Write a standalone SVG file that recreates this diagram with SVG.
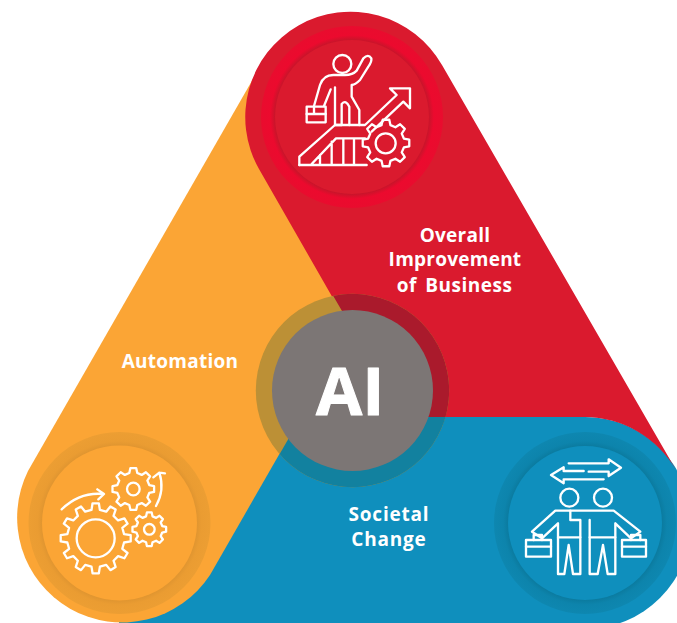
<svg xmlns="http://www.w3.org/2000/svg" xmlns:xlink="http://www.w3.org/1999/xlink" width="677" height="623" viewBox="0 0 677 623">
<style>
.ic{fill:none;stroke:#fff;stroke-width:7;stroke-linejoin:round;stroke-linecap:round}
.g{fill:none;stroke:#fff;stroke-width:2.3;stroke-linejoin:round;vector-effect:non-scaling-stroke}
.l{font-family:"Open Sans","Liberation Sans",sans-serif;font-weight:700;font-size:19px;letter-spacing:.25px;fill:#fff;text-anchor:middle}
</style>
<defs>
<path id="g8" class="g" d="M76,-19L99,-14L99,14L76,19L67,40L80,60L60,80L40,67L19,76L14,99L-14,99L-19,76L-40,67L-60,80L-80,60L-67,40L-76,19L-99,14L-99,-14L-76,-19L-67,-40L-80,-60L-60,-80L-40,-67L-19,-76L-14,-99L14,-99L19,-76L40,-67L60,-80L80,-60L67,-40Z"/>
<path id="g12" class="g" d="M81,-12L100,-9L100,9L81,12L76,30L91,42L82,57L64,51L51,64L57,82L42,91L30,76L12,81L9,100L-9,100L-12,81L-30,76L-42,91L-57,82L-51,64L-64,51L-82,57L-91,42L-76,30L-81,12L-100,9L-100,-9L-81,-12L-76,-30L-91,-42L-82,-57L-64,-51L-51,-64L-57,-82L-42,-91L-30,-76L-12,-81L-9,-100L9,-100L12,-81L30,-76L42,-91L57,-82L51,-64L64,-51L82,-57L91,-42L76,-30L81,-12Z"/>
<radialGradient id="rr"><stop offset="0.84" stop-color="#C4162A"/><stop offset="0.9" stop-color="#EC0A2E"/><stop offset="1" stop-color="#E90C2E"/></radialGradient>
<radialGradient id="ro"><stop offset="0.84" stop-color="#DE9430"/><stop offset="0.9" stop-color="#EA9C32"/><stop offset="1" stop-color="#EC9E33"/></radialGradient>
<radialGradient id="rb"><stop offset="0.84" stop-color="#0B7A9E"/><stop offset="0.9" stop-color="#0D84AC"/><stop offset="1" stop-color="#0E87B0"/></radialGradient>
<clipPath id="cr"><path d="M442,65L676,470A106,106 0 0 0 585,417L404,417L259,169A105,105 0 0 1 442,65Z"/></clipPath>
<clipPath id="cb"><path d="M301,417L585,417V629H210V575Z"/></clipPath>
</defs>
<rect width="677" height="623" fill="#fff"/>
<g id="node-societal">
<path fill="#0F8FBD" d="M119,417L585,417A106,106 0 0 1 585,629L119,629Z"/>
</g>
<g id="node-automation">
<path fill="#FBA535" d="M261,65L28,471A105,105 0 0 0 210,575L443,169Z"/>
</g>
<g id="node-business">
<path fill="#DA1A2E" d="M442,65L676,470A106,106 0 0 0 585,417L401,417L259,169A105,105 0 0 1 442,65Z"/>
<circle cx="352" cy="117" r="91" fill="url(#rr)"/>
<circle cx="352" cy="117" r="77" fill="#DA1A2E"/>
<g transform="translate(240,0) scale(.33333)">
<circle class="ic" cx="307" cy="192" r="27"/>
<path class="ic" d="M222,318L240,255Q250,225 280,225L315,225Q338,225 350,212L370,175Q385,160 394,175Q396,185 385,200L360,240Q345,255 335,255L335,290L358,330L358,375"/>
<path class="ic" d="M272,268L252,318M285,262L285,375L305,375L305,312Q318,298 328,320L328,375"/>
<rect class="ic" x="200" y="320" width="57" height="47"/>
<path class="ic" d="M200,342H257M222,320V342"/>
<path class="ic" d="M178,495L178,470L285,375L375,375L470,285L450,265L510,265L510,325L490,305L395,395"/>
<path class="ic" d="M178,495H380M215,492L288,415L375,415M240,465V495M275,425V495M310,415V495M342,415V495"/>
<circle class="ic" cx="437" cy="430" r="30"/>
</g>
<use xlink:href="#g8" href="#g8" transform="translate(386,143) scale(.235)"/>
</g>
<g id="node-automation-icon">
<circle cx="119.500" cy="523" r="91" fill="url(#ro)"/>
<circle cx="119.500" cy="523" r="77.500" fill="#FBA535"/>
<use xlink:href="#g12" href="#g12" transform="translate(95.700,538.300) scale(.35)"/>
<use xlink:href="#g8" href="#g8" transform="translate(133.300,489) scale(.21)"/>
<use xlink:href="#g8" href="#g8" transform="translate(149.300,529.300) scale(.17)"/>
<g transform="translate(0,420) scale(.33333)">
<circle class="ic" cx="287" cy="355" r="57"/>
<circle class="ic" cx="400" cy="207" r="19"/>
<circle class="ic" cx="448" cy="328" r="16"/>
<path class="ic" d="M185,268Q240,215 310,222M292,208L312,222L295,238"/>
<path class="ic" d="M468,258Q495,210 478,158M460,172L478,158L495,160"/>
</g>
</g>
<g id="node-societal-icon">
<circle cx="585" cy="523" r="91" fill="url(#rb)"/>
<circle cx="585" cy="523" r="77" fill="#0F8FBD"/>
<g transform="translate(477,420) scale(.33333)">
<path class="ic" d="M275,130H395V118L432,143L395,168V155H335"/>
<path class="ic" d="M380,178H260V190L222,165L260,142V153H320"/>
<circle class="ic" cx="277" cy="233" r="27"/>
<circle class="ic" cx="378" cy="233" r="27"/>
<path class="ic" d="M280,272H235L165,335L195,355L243,310V462H262L275,375L288,462H310V300H280V272"/>
<path class="ic" d="M280,272H410L490,335L462,355L415,310V462H392L378,375L362,462H338V300"/>
<path class="ic" d="M243,352H310M338,352H415"/>
<rect class="ic" x="147" y="360" width="75" height="50"/>
<rect class="ic" x="435" y="360" width="72" height="50"/>
<path class="ic" d="M147,380H222M435,380H507M170,360V345H195V360M462,360V345H490V360"/>
</g>
</g>
<g id="node-ai">
<circle cx="352.500" cy="390.500" r="96.700" fill="#BC9036"/>
<circle cx="352.500" cy="390.500" r="96.700" fill="#AA1A2C" clip-path="url(#cr)"/>
<circle cx="352.500" cy="390.500" r="96.700" fill="#12819F" clip-path="url(#cb)"/>
<circle cx="352.500" cy="390.500" r="80.500" fill="#7C7675"/>
<text x="316" y="414.500" font-family="'Open Sans','Liberation Sans',sans-serif" font-weight="700" font-size="67" fill="#fff" stroke="#fff" stroke-width="1" stroke-linejoin="round">AI</text>
</g>
<text class="l" x="455" y="242">Overall</text>
<text class="l" x="455" y="266">Improvement</text>
<text class="l" x="454.500" y="292" style="letter-spacing:.5px;word-spacing:3px">of Business</text>
<text class="l" x="180" y="368">Automation</text>
<text class="l" x="389" y="521" style="letter-spacing:.8px">Societal</text>
<text class="l" x="389" y="546" style="letter-spacing:.8px">Change</text>
</svg>
